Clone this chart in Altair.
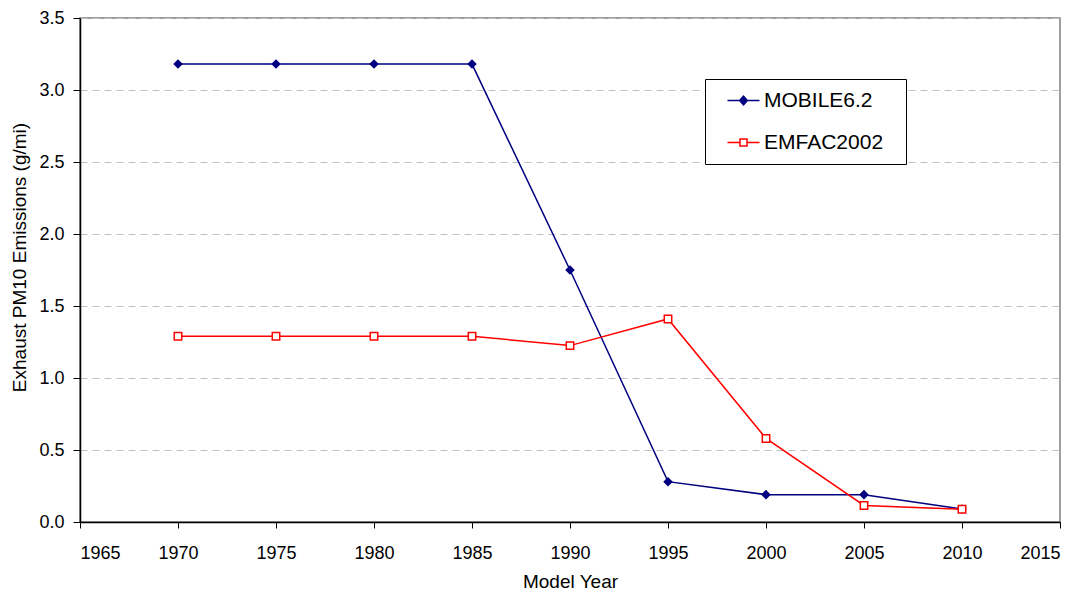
import altair as alt
import pandas as pd

years = [1970, 1975, 1980, 1985, 1990, 1995, 2000, 2005, 2010]
mobile = [3.18, 3.18, 3.18, 3.18, 1.75, 0.28, 0.19, 0.19, 0.09]
emfac = [1.29, 1.29, 1.29, 1.29, 1.225, 1.41, 0.58, 0.115, 0.088]
series_names = ["MOBILE6.2", "EMFAC2002"]
series_colors = ["#000080", "#FF0000"]
marker_fill = ["#000080", "#FFFFFF"]
x_ticks = [1965, 1970, 1975, 1980, 1985, 1990, 1995, 2000, 2005, 2010, 2015]
y_ticks = [0, 0.5, 1.0, 1.5, 2.0, 2.5, 3.0, 3.5]

rows = []
for name, vals in zip(series_names, [mobile, emfac]):
    for i, (yr, v) in enumerate(zip(years, vals)):
        rows.append({"year": yr, "value": v, "series": name, "order": i})
df = pd.DataFrame(rows)

FONT = "Liberation Sans"

diamond_sym = "M-2,0H2M-0.48,0L0,-0.55L0.48,0L0,0.55Z"
square_sym = "M-2,0H-0.44M0.44,0H2M-0.44,-0.44H0.44V0.44H-0.44Z"

x_enc = alt.X(
    "year:Q",
    scale=alt.Scale(domain=[1965, 2015], nice=False, zero=False),
    axis=alt.Axis(
        values=x_ticks, format="d", title="Model Year", grid=False,
        labelFontSize=18, labelFont=FONT, labelColor="black",
        tickSize=6, tickColor="black", labelPadding=16,
        domainColor="black", domainWidth=1.5,
        titleFont=FONT, titleFontSize=19, titleFontWeight="normal", titleColor="black",
        titleY=65, titleBaseline="alphabetic",
    ),
)
y_enc = alt.Y(
    "value:Q",
    scale=alt.Scale(domain=[0, 3.5], nice=False),
    axis=alt.Axis(
        values=y_ticks, format=".1f", title="Exhaust PM10 Emissions (g/mi)",
        grid=True, gridColor="#c0c0c0", gridDash=[7, 5], gridWidth=1,
        labelFontSize=18, labelFont=FONT, labelColor="black",
        tickSize=7, tickColor="black", labelPadding=9,
        domainColor="black", domainWidth=1.5,
        titleFont=FONT, titleFontSize=19, titleFontWeight="normal", titleColor="black",
        titleX=-55, titleY=239, titleBaseline="alphabetic",
    ),
)
stroke_scale = alt.Scale(domain=series_names, range=series_colors)

legend = alt.Legend(
    title=" ", titleOrient="right", titlePadding=12, titleFontSize=21, titleFont=FONT,
    orient="none", legendX=625, legendY=61,
    labelFont=FONT, labelFontSize=21, labelColor="black",
    symbolType=alt.ExprRef(
        "datum.value === 'MOBILE6.2' ? '" + diamond_sym + "' : '" + square_sym + "'"
    ),
    symbolFillColor=alt.ExprRef(
        "datum.value === 'MOBILE6.2' ? '#000080' : '#FFFFFF'"
    ),
    symbolSize=256, symbolStrokeWidth=1.5,
    symbolOffset=17, labelOffset=10,
    padding=11, rowPadding=20,
    strokeColor="black", fillColor="white",
)

lines = alt.Chart(df).mark_line(strokeWidth=1.5).encode(
    x=x_enc, y=y_enc,
    stroke=alt.Stroke("series:N", scale=stroke_scale, legend=legend),
    order="order:Q",
)

is_mobile = alt.datum.series == series_names[0]

points = alt.Chart(df).mark_point(filled=True, size=55, strokeWidth=1.5, opacity=1).encode(
    x=x_enc, y=y_enc,
    stroke=alt.Stroke("series:N", scale=stroke_scale, legend=legend),
    fill=alt.Fill("series:N", scale=alt.Scale(domain=series_names, range=marker_fill), legend=None),
    shape=alt.condition(is_mobile, alt.value("diamond"), alt.value("square")),
)

chart = alt.layer(lines, points).properties(
    width=980, height=504,
    autosize=alt.AutoSizeParams(type="none"),
    padding={"left": 72, "top": 10, "right": 21, "bottom": 74},
    background="white",
).configure_view(stroke="#808080", strokeWidth=1.5)

chart.save("out.html", embed_options={"renderer": "svg", "actions": False})
